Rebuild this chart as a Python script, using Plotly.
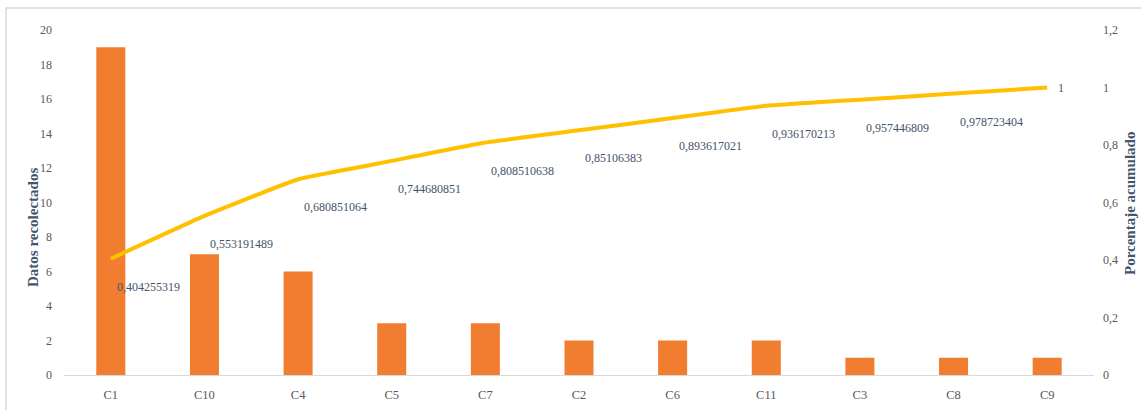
import plotly.graph_objects as go

categories = ["C1", "C10", "C4", "C5", "C7", "C2", "C6", "C11", "C3", "C8", "C9"]
counts = [19, 7, 6, 3, 3, 2, 2, 2, 1, 1, 1]
left_ticks = [0, 2, 4, 6, 8, 10, 12, 14, 16, 18, 20]
right_ticks = [0, 0.2, 0.4, 0.6, 0.8, 1, 1.2]
right_tick_labels = ["0", "0,2", "0,4", "0,6", "0,8", "1", "1,2"]
left_title = "Datos recolectados"
right_title = "Porcentaje acumulado"

total = sum(counts)
cum = []
s = 0
for c in counts:
    s += c
    cum.append(s / total)

def fmt(v):
    t = f"{v:.9f}".rstrip("0").rstrip(".")
    return t.replace(".", ",")

W, H = 1141, 410
L, R, T, B = 64, 47, 30, 35
pw, ph = W - L - R, H - T - B

def px(x):
    return (x - L) / pw

def py(y):
    return (H - B - y) / ph

font_family = "Liberation Serif, Times New Roman, serif"

fig = go.Figure()
fig.add_trace(go.Bar(
    x=categories, y=counts, marker=dict(color="#F07D30", line=dict(width=0)),
    width=0.31, yaxis="y", showlegend=False,
))
fig.add_trace(go.Scatter(
    x=categories, y=cum, yaxis="y2", mode="lines",
    line=dict(color="#FFC000", width=4, shape="spline", smoothing=0.3),
    showlegend=False,
))

annotations = []
for i, (c, v) in enumerate(zip(categories, cum)):
    last = i == len(categories) - 1
    annotations.append(dict(
        x=c, y=v, xref="x", yref="y2", text=fmt(v), showarrow=False,
        xanchor="left", yanchor="middle",
        xshift=9 if last else 4, yshift=0 if last else -28,
        font=dict(family=font_family, size=12, color="#44546A"),
    ))
annotations.append(dict(
    x=px(33), y=py(228), xref="paper", yref="paper", text=f"<b>{left_title}</b>",
    textangle=-90, showarrow=False, xanchor="center", yanchor="middle",
    font=dict(family=font_family, size=15, color="#44546A"),
))
annotations.append(dict(
    x=px(1130), y=py(204), xref="paper", yref="paper", text=f"<b>{right_title}</b>",
    textangle=-90, showarrow=False, xanchor="center", yanchor="middle",
    font=dict(family=font_family, size=15, color="#44546A"),
))

fig.update_layout(
    width=W, height=H,
    margin=dict(l=L, r=R, t=T, b=B, autoexpand=False),
    paper_bgcolor="white", plot_bgcolor="white",
    separators=",.",
    font=dict(family=font_family, size=12, color="#595959"),
    bargap=0.69,
    xaxis=dict(
        showgrid=False, showline=True, linecolor="#D9D9D9", linewidth=1,
        ticks="", ticklabelstandoff=8,
        tickfont=dict(family=font_family, size=12.5, color="#595959"),
        zeroline=False, automargin=False,
    ),
    yaxis=dict(
        range=[0, 20], tickvals=left_ticks, showgrid=False, zeroline=False,
        showline=False, ticks="", ticklabelstandoff=11, automargin=False,
        tickfont=dict(family=font_family, size=12, color="#595959"),
    ),
    yaxis2=dict(
        range=[0, 1.2], tickvals=right_ticks, ticktext=right_tick_labels,
        overlaying="y", side="right", showgrid=False, zeroline=False,
        showline=False, ticks="", ticklabelstandoff=8, automargin=False,
        tickfont=dict(family=font_family, size=12, color="#595959"),
    ),
    annotations=annotations,
    shapes=[dict(
        type="path", xref="paper", yref="paper",
        path=f"M {px(6)} {py(H) - 0.01} L {px(6)} {py(8)} L {px(W) + 0.01} {py(8)}",
        line=dict(color="#D9D9D9", width=1.5),
    )],
)

fig.write_html("out.html", config={"displayModeBar": False},
               post_script="document.body.style.margin='0';")
